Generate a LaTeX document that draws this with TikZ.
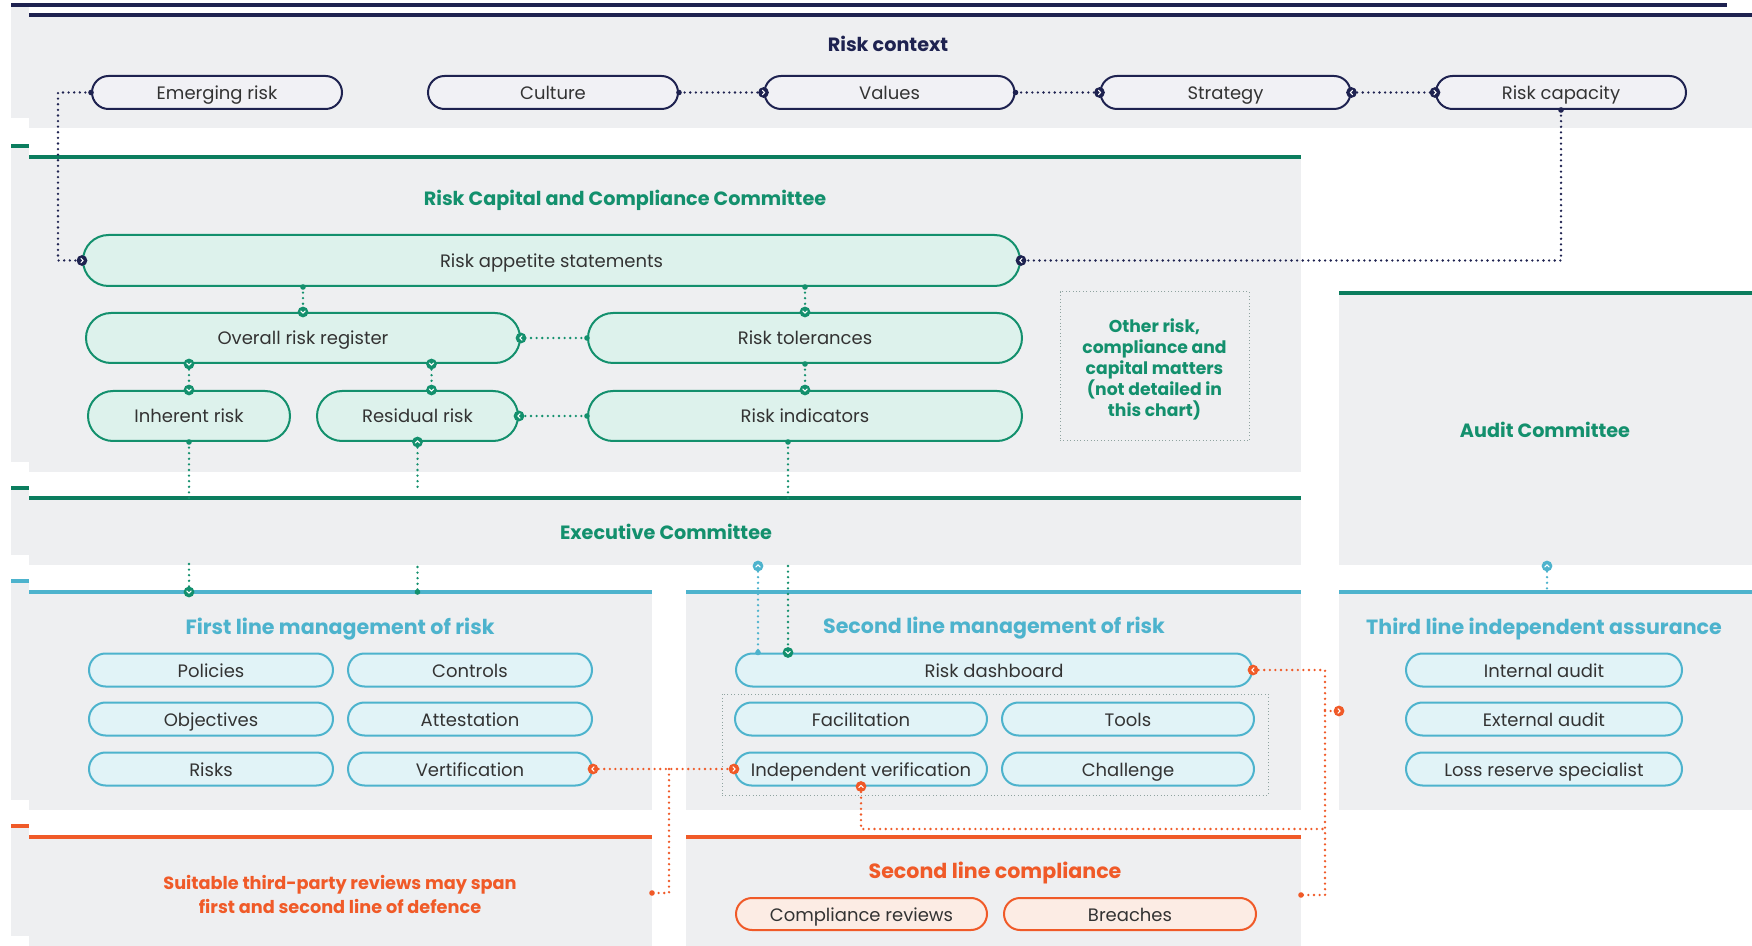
\documentclass[tikz,border=0pt]{standalone}
\usepackage{fontspec}
\setmainfont{Poppins}
\usetikzlibrary{shapes.misc}
\definecolor{navy}{HTML}{1E2250}
\definecolor{panel}{HTML}{EEEFF1}
\definecolor{pillgray}{HTML}{F1F1F5}
\definecolor{grn}{HTML}{13906D}
\definecolor{grnline}{HTML}{0B7D5E}
\definecolor{grnfill}{HTML}{DDF2EC}
\definecolor{blu}{HTML}{4DB3CD}
\definecolor{blufill}{HTML}{E1F3F7}
\definecolor{org}{HTML}{F05A28}
\definecolor{orgfill}{HTML}{FCECE4}
\definecolor{txt}{HTML}{333333}
\definecolor{boxdot}{HTML}{8FA3A0}
\newcommand\mkr[3]{\fill[#1] (#2) circle (2.7pt);
  \draw[white, line width=0.5pt, line cap=round, line join=round, shift={(#2)}, rotate=#3] (-0.55pt,-1.1pt) -- (0.6pt,0pt) -- (-0.55pt,1.1pt);}
\newcommand\sdot[2]{\fill[#1] (#2) circle (1.4pt);}
\tikzset{
  pill/.style={rounded rectangle, line width=1pt, inner sep=0pt, text=txt, font=\fontsize{9}{10}\selectfont, text height=7.6pt, text depth=0.6pt},
  pilln/.style={pill, draw=navy, fill=pillgray, minimum width=125pt, minimum height=16.5pt},
  pillg/.style={pill, draw=grn, fill=grnfill, minimum height=25pt},
  pillb/.style={pill, draw=blu, fill=blufill, minimum height=16.5pt},
  pillo/.style={pill, draw=org, fill=orgfill, minimum height=16pt},
  ttl/.style={font=\bfseries\fontsize{9.6}{11}\selectfont, inner sep=0pt, text height=7pt, text depth=0pt},
  ttlb/.style={font=\bfseries\fontsize{10.3}{12}\selectfont, inner sep=0pt, text height=7.5pt, text depth=0pt},
  dots/.style={line width=1.3pt, line cap=round, dash pattern=on 0pt off 2.8pt},
  bar/.style={line width=2pt},
}
\begin{document}
\begin{tikzpicture}[x=0.5pt,y=-0.5pt]
\useasboundingbox (0,0) rectangle (1752,946);
\fill[white] (0,0) rectangle (1752,946);
% ---- shifted background copy strip at the left
\fill[panel] (11,5) rectangle (29,118);
\fill[panel] (11,147) rectangle (29,462);
\fill[panel] (11,488) rectangle (29,555);
\fill[panel] (11,581) rectangle (29,800);
\fill[panel] (11,826) rectangle (29,936);
\draw[bar,navy] (11,5) -- (1727,5);
\draw[bar,grnline] (11,146) -- (29,146);
\draw[bar,grnline] (11,488) -- (29,488);
\draw[bar,blu] (11,581) -- (29,581);
\draw[bar,org] (11,826) -- (29,826);
% ---- panels
\fill[panel] (29,15) rectangle (1752,128);
\draw[bar,navy] (29,15) -- (1752,15);
\fill[panel] (29,157) rectangle (1301,472);
\draw[bar,grnline] (29,157) -- (1301,157);
\fill[panel] (29,498) rectangle (1301,565);
\draw[bar,grnline] (29,498) -- (1301,498);
\fill[panel] (1339,293) rectangle (1752,565);
\draw[bar,grnline] (1339,293) -- (1752,293);
\fill[panel] (29,592) rectangle (652,810);
\draw[bar,blu] (29,592) -- (652,592);
\fill[panel] (686,592) rectangle (1301,810);
\draw[bar,blu] (686,592) -- (1301,592);
\fill[panel] (1339,592) rectangle (1752,810);
\draw[bar,blu] (1339,592) -- (1752,592);
\fill[panel] (29,837) rectangle (652,946);
\draw[bar,org] (29,837) -- (652,837);
\fill[panel] (686,837) rectangle (1301,946);
\draw[bar,org] (686,837) -- (1301,837);
% ---- titles
\node[ttl,text=navy] (tctx) at (888,45) {Risk context};
\node[ttl,text=grn] (trcc) at (625,199) {Risk Capital and Compliance Committee};
\node[ttl,text=grn] (texe) at (666,533) {Executive Committee};
\node[ttl,text=grn] (taud) at (1545,431) {Audit Committee};
\node[ttlb,text=blu] (tfirst) at (340,627) {First line management of risk};
\node[ttlb,text=blu] (tsecond) at (994,626) {Second line management of risk};
\node[ttlb,text=blu] (tthird) at (1544,627) {Third line independent assurance};
\node[ttlb,text=org] (tcomp) at (995,871) {Second line compliance};
\node[font=\bfseries\fontsize{8.85}{12}\selectfont, text=org, align=center, inner sep=0pt] (tsuit) at (340,894) {Suitable third-party reviews may span\\first and second line of defence};
% ---- risk context pills
\node[pilln] (emerg) at (217,92.5) {Emerging risk};
\node[pilln] (culture) at (553,92.5) {Culture};
\node[pilln] (values) at (889.5,92.5) {Values};
\node[pilln] (strategy) at (1225.5,92.5) {Strategy};
\node[pilln] (capacity) at (1561,92.5) {Risk capacity};
% ---- RCCC pills
\node[pillg, minimum width=468.5pt, minimum height=25.5pt] (appetite) at (551.5,260.5) {Risk appetite statements};
\node[pillg, minimum width=217pt] (register) at (303,338) {Overall risk register};
\node[pillg, minimum width=217pt] (tolerances) at (805,338) {Risk tolerances};
\node[pillg, minimum width=101pt] (inherent) at (189,416) {Inherent risk};
\node[pillg, minimum width=100.5pt] (residual) at (417.5,416) {Residual risk};
\node[pillg, minimum width=217pt] (indicators) at (805,416) {Risk indicators};
\node[draw=boxdot, line width=0.5pt, dash pattern=on 0.5pt off 1.2pt, minimum width=94.5pt, minimum height=74.5pt, inner sep=0pt] (other) at (1154.5,366.5) {};
\node[align=center, text=grn, inner sep=0pt, font=\bfseries\fontsize{8.6}{10.5}\selectfont] (othertxt) at (1154.5,369.5) {Other risk,\\compliance and\\capital matters\\(not detailed in\\this chart)};
% ---- first line pills
\node[pillb, minimum width=122pt] (policies) at (211,670) {Policies};
\node[pillb, minimum width=122pt] (controls) at (470,670) {Controls};
\node[pillb, minimum width=122pt] (objectives) at (211,719) {Objectives};
\node[pillb, minimum width=122pt] (attestation) at (470,719) {Attestation};
\node[pillb, minimum width=122pt] (risks) at (211,769) {Risks};
\node[pillb, minimum width=122pt] (vertif) at (470,769) {Vertification};
% ---- second line pills
\node[draw=boxdot, line width=0.5pt, dash pattern=on 0.5pt off 1.2pt, minimum width=273pt, minimum height=50.5pt, inner sep=0pt] (grp) at (995,744.5) {};
\node[pillb, minimum width=258pt] (dashboard) at (994,670) {Risk dashboard};
\node[pillb, minimum width=126pt] (facil) at (861,719) {Facilitation};
\node[pillb, minimum width=126pt] (tools) at (1128,719) {Tools};
\node[pillb, minimum width=126pt] (indep) at (861,769) {Independent verification};
\node[pillb, minimum width=126pt] (challenge) at (1128,769) {Challenge};
% ---- third line pills
\node[pillb, minimum width=138pt] (internal) at (1544,670) {Internal audit};
\node[pillb, minimum width=138pt] (external) at (1544,719) {External audit};
\node[pillb, minimum width=138pt] (loss) at (1544,769) {Loss reserve specialist};
% ---- compliance pills
\node[pillo, minimum width=125.5pt] (creviews) at (861.5,914) {Compliance reviews};
\node[pillo, minimum width=126pt] (breaches) at (1130,914) {Breaches};
% ---- navy connectors
\draw[dots,navy] (culture.east) -- (values.west);
\sdot{navy}{culture.east}\mkr{navy}{values.west}{0}
\draw[dots,navy] (values.east) -- (strategy.west);
\sdot{navy}{values.east}\mkr{navy}{strategy.west}{0}
\draw[dots,navy] (strategy.east) -- (capacity.west);
\mkr{navy}{strategy.east}{180}\mkr{navy}{capacity.west}{0}
\coordinate (eL) at (58,92.5);
\draw[dots,navy] (emerg.west) -- (eL) |- (appetite.west);
\sdot{navy}{emerg.west}\mkr{navy}{appetite.west}{0}
\draw[dots,navy] (capacity.south) |- (appetite.east);
\sdot{navy}{capacity.south}\mkr{navy}{appetite.east}{180}
% ---- green connectors
\draw[dots,grn] (appetite.south -| register.north) -- (register.north);
\sdot{grn}{appetite.south -| register.north}\mkr{grn}{register.north}{-90}
\draw[dots,grn] (appetite.south -| tolerances.north) -- (tolerances.north);
\sdot{grn}{appetite.south -| tolerances.north}\mkr{grn}{tolerances.north}{-90}
\draw[dots,grn] (tolerances.west) -- (register.east);
\sdot{grn}{tolerances.west}\mkr{grn}{register.east}{180}
\draw[dots,grn] (register.south -| inherent.north) -- (inherent.north);
\mkr{grn}{register.south -| inherent.north}{-90}\mkr{grn}{inherent.north}{-90}
\coordinate (resT) at ([xshift=7pt]residual.north);
\draw[dots,grn] (register.south -| resT) -- (resT);
\mkr{grn}{register.south -| resT}{-90}\mkr{grn}{resT}{-90}
\draw[dots,grn] (tolerances.south) -- (indicators.north);
\sdot{grn}{tolerances.south}\mkr{grn}{indicators.north}{-90}
\draw[dots,grn] (indicators.west) -- (residual.east);
\sdot{grn}{indicators.west}\mkr{grn}{residual.east}{180}
% down to the exec line and below
\coordinate (inhA) at (189,498);
\coordinate (inhB) at (189,564);
\coordinate (inhC) at (189,592);
\draw[dots,grn] (inherent.south) -- (inhA);
\sdot{grn}{inherent.south}
\draw[dots,grn] (inhB) -- (inhC);
\mkr{grn}{inhC}{-90}
\coordinate (resA) at (417.5,492);
\coordinate (resB) at (417.5,567);
\coordinate (resC) at (417.5,592);
\draw[dots,grn] (residual.south) -- (resA);
\mkr{grn}{residual.south}{90}
\draw[dots,grn] (resB) -- (resC);
\sdot{grn}{resC}
\coordinate (indS) at ([xshift=-8.5pt]indicators.south);
\coordinate (indA) at (788,498);
\coordinate (indB) at (788,566);
\draw[dots,grn] (indS) -- (indA);
\sdot{grn}{indS}
\draw[dots,grn] (indB) -- (dashboard.north -| indB);
\mkr{grn}{dashboard.north -| indB}{-90}
% ---- blue connectors
\coordinate (exB) at (758,566);
\draw[dots,blu] (exB) -- (dashboard.north -| exB);
\mkr{blu}{exB}{90}\sdot{blu}{dashboard.north -| exB}
\coordinate (auB) at (1547,566);
\coordinate (auC) at (1547,592);
\draw[dots,blu] (auB) -- (auC);
\mkr{blu}{auB}{90}
% ---- orange connectors
\draw[dots,org] (vertif.east) -- (indep.west);
\mkr{org}{vertif.east}{180}\mkr{org}{indep.west}{0}
\coordinate (oJ) at (669,769);
\coordinate (oK) at (669,893);
\coordinate (oL) at (652,893);
\draw[dots,org] (oJ) -- (oK) -- (oL);
\sdot{org}{oL}
\coordinate (rA) at (1325,670);
\coordinate (rB) at (1325,895);
\coordinate (rC) at (1301,895);
\draw[dots,org] (dashboard.east) -- (rA) -- (rB) -- (rC);
\mkr{org}{dashboard.east}{180}\sdot{org}{rC}
\coordinate (rM) at (1325,711);
\coordinate (rN) at (1339,711);
\draw[dots,org] (rM) -- (rN);
\mkr{org}{rN}{0}
\coordinate (iA) at (861,829);
\coordinate (iB) at (1325,829);
\draw[dots,org] (indep.south) -- (iA) -- (iB);
\mkr{org}{indep.south}{90}
\end{tikzpicture}
\end{document}
